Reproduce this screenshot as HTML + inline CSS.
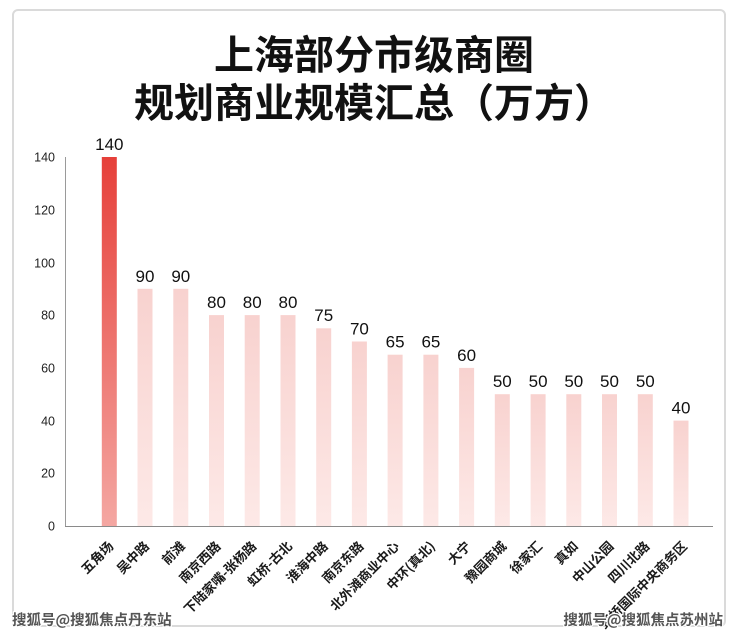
<!DOCTYPE html>
<html>
<head>
<meta charset="utf-8">
<style>
  html, body { margin:0; padding:0; background:#ffffff; }
  body { width:740px; height:636px; overflow:hidden; }
  svg { display:block; }
  .t { font-family:"Liberation Sans","Noto Sans CJK SC",sans-serif; }
  .cjk { font-family:"Noto Sans CJK SC","WenQuanYi Zen Hei",sans-serif; }
</style>
</head>
<body>
<svg width="740" height="636" viewBox="0 0 740 636" xmlns="http://www.w3.org/2000/svg">
  <defs>
    <linearGradient id="gRed" x1="0" y1="0" x2="0" y2="1">
      <stop offset="0" stop-color="#e6403a"/>
      <stop offset="1" stop-color="#f4a7a2"/>
    </linearGradient>
    <linearGradient id="gPink" x1="0" y1="0" x2="0" y2="1">
      <stop offset="0" stop-color="#f8d2cf"/>
      <stop offset="1" stop-color="#fde9e7"/>
    </linearGradient>
  </defs>

  <!-- card -->
  <rect x="13" y="10" width="712" height="616" rx="5" ry="5" fill="#ffffff" stroke="#dadada" stroke-width="2"/>

  <!-- title -->
  <text class="cjk" x="374" y="69" text-anchor="middle" font-size="40" font-weight="700" fill="#111">上海部分市级商圈</text>
  <text class="cjk" x="374" y="117" text-anchor="middle" font-size="40" font-weight="700" fill="#111">规划商业规模汇总（万方）</text>

  <!-- axes -->
  <line x1="65.5" y1="157" x2="65.5" y2="526" stroke="#9a9a9a" stroke-width="1"/>
  <line x1="65" y1="526.5" x2="713" y2="526.5" stroke="#8a8a8a" stroke-width="1"/>

  <g class="t" font-size="12.5" fill="#222" text-anchor="end">
    <text x="55" y="161.5">140</text>
    <text x="55" y="214.5">120</text>
    <text x="55" y="267.5">100</text>
    <text x="55" y="319.5">80</text>
    <text x="55" y="372.5">60</text>
    <text x="55" y="425.5">40</text>
    <text x="55" y="477.5">20</text>
    <text x="55" y="530.5">0</text>
  </g>

  <!-- bars -->
  <rect x="101.8" y="157" width="15" height="369" fill="url(#gRed)"/>
  <g fill="url(#gPink)">
    <rect x="137.5" y="288.8" width="15" height="237.2"/>
    <rect x="173.3" y="288.8" width="15" height="237.2"/>
    <rect x="209.0" y="315.1" width="15" height="210.9"/>
    <rect x="244.7" y="315.1" width="15" height="210.9"/>
    <rect x="280.5" y="315.1" width="15" height="210.9"/>
    <rect x="316.2" y="328.3" width="15" height="197.7"/>
    <rect x="351.9" y="341.5" width="15" height="184.5"/>
    <rect x="387.6" y="354.7" width="15" height="171.3"/>
    <rect x="423.4" y="354.7" width="15" height="171.3"/>
    <rect x="459.1" y="367.9" width="15" height="158.1"/>
    <rect x="494.8" y="394.2" width="15" height="131.8"/>
    <rect x="530.6" y="394.2" width="15" height="131.8"/>
    <rect x="566.3" y="394.2" width="15" height="131.8"/>
    <rect x="602.0" y="394.2" width="15" height="131.8"/>
    <rect x="637.8" y="394.2" width="15" height="131.8"/>
    <rect x="673.5" y="420.6" width="15" height="105.4"/>
  </g>

  <!-- value labels -->
  <g class="t" font-size="17" fill="#111" text-anchor="middle">
    <text x="109.3" y="150">140</text>
    <text x="145.0" y="282">90</text>
    <text x="180.8" y="282">90</text>
    <text x="216.5" y="308">80</text>
    <text x="252.2" y="308">80</text>
    <text x="288.0" y="308">80</text>
    <text x="323.7" y="321">75</text>
    <text x="359.4" y="334.5">70</text>
    <text x="395.1" y="347.7">65</text>
    <text x="430.9" y="347.7">65</text>
    <text x="466.6" y="361">60</text>
    <text x="502.3" y="387.2">50</text>
    <text x="538.1" y="387.2">50</text>
    <text x="573.8" y="387.2">50</text>
    <text x="609.5" y="387.2">50</text>
    <text x="645.3" y="387.2">50</text>
    <text x="681.0" y="413.6">40</text>
  </g>

  <!-- x labels -->
  <g class="cjk" font-size="13" font-weight="700" fill="#1a1a1a" text-anchor="end">
    <text transform="translate(114.3,547) rotate(-45)">五角场</text>
    <text transform="translate(150.0,547) rotate(-45)">吴中路</text>
    <text transform="translate(185.8,547) rotate(-45)">前滩</text>
    <text transform="translate(221.5,547) rotate(-45)">南京西路</text>
    <text transform="translate(257.2,547) rotate(-45)">下陆家嘴-张杨路</text>
    <text transform="translate(293.0,547) rotate(-45)">虹桥-古北</text>
    <text transform="translate(328.7,547) rotate(-45)">淮海中路</text>
    <text transform="translate(364.4,547) rotate(-45)">南京东路</text>
    <text transform="translate(400.1,547) rotate(-45)">北外滩商业中心</text>
    <text transform="translate(435.9,547) rotate(-45)">中环(真北)</text>
    <text transform="translate(471.6,547) rotate(-45)">大宁</text>
    <text transform="translate(507.3,547) rotate(-45)">豫园商城</text>
    <text transform="translate(543.1,547) rotate(-45)">徐家汇</text>
    <text transform="translate(578.8,547) rotate(-45)">真如</text>
    <text transform="translate(614.5,547) rotate(-45)">中山公园</text>
    <text transform="translate(650.3,547) rotate(-45)">四川北路</text>
    <text transform="translate(688.0,547) rotate(-45)">虹桥国际中央商务区</text>
  </g>

  <!-- watermarks -->
  <g class="cjk" font-size="14.5" font-weight="700" fill="#555" stroke="#ffffff" stroke-width="2.5" paint-order="stroke" stroke-linejoin="round">
    <text x="12" y="625">搜狐号@搜狐焦点丹东站</text>
    <text x="723" y="625" text-anchor="end">搜狐号@搜狐焦点苏州站</text>
  </g>
</svg>
</body>
</html>
